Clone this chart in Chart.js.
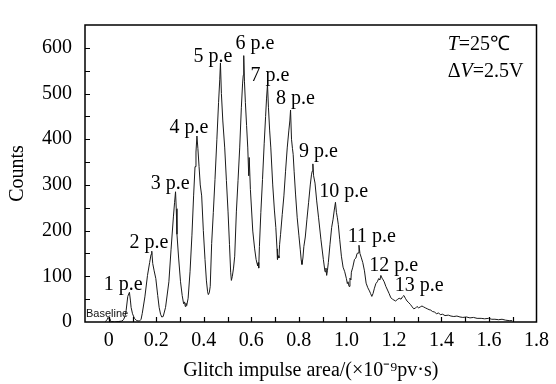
<!DOCTYPE html>
<html><head><meta charset="utf-8">
<script src="https://cdn.jsdelivr.net/npm/chart.js@4/dist/chart.umd.min.js"></script>
<style>html,body{margin:0;padding:0;background:#fff;}#wrap{width:556px;height:384px;}</style>
</head><body><div id="wrap"><canvas id="c" width="556" height="384"></canvas></div>
<script>
// Glitch impulse area (x 10^-9 pv.s)
const areaX = [
-0.015,-0.010,-0.006,-0.003,0.001,0.005,0.012,0.025,0.040,0.055,0.062,0.068,0.073,0.080,0.087,0.091,0.094,0.100,0.108,0.118,
0.129,0.136,0.141,0.152,0.163,0.172,0.178,0.181,0.185,0.191,0.198,0.206,0.212,0.218,0.223,
0.229,0.239,0.253,0.262,0.272,0.277,0.281,0.284,0.287,0.294,0.302,0.309,0.315,0.319,0.322,0.325,0.328,
0.334,0.342,0.350,0.357,0.363,0.367,0.371,0.375,0.380,0.385,0.391,0.398,0.405,0.411,0.416,0.419,
0.423,0.427,0.433,0.440,0.447,0.455,0.462,0.467,0.470,0.474,0.480,0.488,0.495,0.502,0.508,0.513,0.516,
0.520,0.525,0.530,0.537,0.544,0.551,0.558,0.563,0.566,0.568,0.571,0.575,0.580,0.585,0.589,0.591,0.596,0.606,0.614,0.620,0.624,0.627,0.629,0.631,
0.634,0.640,0.647,0.654,0.660,0.664,0.668,0.672,0.677,0.682,0.690,0.697,0.703,0.708,0.710,0.713,0.716,0.719,
0.723,0.730,0.737,0.744,0.751,0.758,0.762,0.765,0.769,0.773,0.776,0.780,0.786,0.793,0.800,0.806,0.810,0.813,0.817,0.821,
0.827,0.834,0.841,0.848,0.853,0.856,0.859,0.862,0.868,0.875,0.883,0.893,0.903,0.910,0.914,0.917,0.920,0.924,
0.931,0.938,0.944,0.949,0.954,0.958,0.962,0.966,0.972,0.979,0.986,0.993,1.000,1.004,1.007,1.011,1.015,1.019,1.021,
1.027,1.034,1.040,1.045,1.049,1.053,1.057,1.062,1.069,1.076,1.083,1.090,1.097,1.102,1.107,
1.112,1.118,1.124,1.130,1.136,1.141,1.145,1.150,1.155,1.159,1.166,1.173,1.180,1.187,1.194,1.200,1.207,
1.214,1.222,1.230,1.236,1.242,1.248,1.255,1.263,1.270,1.277,1.283,1.290,1.297,1.304,1.311,1.318,1.325,1.332,1.340,1.348,
1.355,1.362,1.370,1.380,1.388,1.395,1.405,1.415,1.429,1.440,1.452,1.465,1.478,1.490,1.505,1.520,1.535,1.550,1.567,1.582,
1.598,1.612,1.625,1.640,1.655,1.670,1.685,1.698
];
const counts = [
1,3,6,10,7,3,1,0,1,2,5,12,25,56,65,48,32,18,8,3,
2,6,19,55,102,130,148,155,128,112,95,58,32,17,11,
12,32,88,158,230,262,285,248,192,140,88,58,40,44,34,41,36,
52,110,190,276,340,372,407,380,340,300,276,200,137,90,66,60,
64,78,172,240,312,400,480,530,567,500,440,381,310,241,170,109,91,
100,118,144,241,310,381,470,521,540,583,527,480,430,381,320,360,290,199,160,137,128,123,130,118,
165,240,312,390,450,490,520,470,420,381,300,245,207,160,137,145,140,170,
192,235,276,330,381,420,440,464,400,380,367,330,280,228,190,158,135,126,140,165,
186,225,262,300,322,330,346,320,304,265,228,180,137,110,118,102,112,130,
170,207,225,245,262,240,228,213,180,144,120,110,95,84,88,78,96,92,109,
120,137,140,150,151,168,150,142,130,112,85,75,68,62,56,
62,74,84,88,95,92,102,96,92,88,78,70,62,53,50,48,46,
49,52,50,55,58,52,46,42,38,33,29,30,34,31,33,35,33,31,29,27,
26,23,22,18,20,16,17,14,15,13,12,13,11,10,11,9,10,8,8,7,
8,6,6,5,6,4,3,3
];
const xTickValues = [0,0.2,0.4,0.6,0.8,1.0,1.2,1.4,1.6,1.8];
const xTickLabels = ['0','0.2','0.4','0.6','0.8','1.0','1.2','1.4','1.6','1.8'];
const xMinorTicks = [0,0.1,0.2,0.3,0.4,0.5,0.6,0.7,0.8,0.9,1.0,1.1,1.2,1.3,1.4,1.5,1.6,1.7];
const yTickValues = [0,100,200,300,400,500,600];
const yTickLabels = ['0','100','200','300','400','500','600'];
const yMinorTicks = [50,100,150,200,250,300,350,400,450,500,550,600];
const peakLabels = ['1 p.e','2 p.e','3 p.e','4 p.e','5 p.e','6 p.e','7 p.e','8 p.e','9 p.e','10 p.e','11 p.e','12 p.e','13 p.e'];
const peakLabelX = [-0.021,0.087,0.177,0.256,0.357,0.533,0.596,0.704,0.801,0.886,1.006,1.096,1.203];
const peakLabelY = [71,161,291,414,570,598,527,478,361,274,175,112,67];
const baselineLabel = 'Baseline';
const baselineLabelPos = [-0.1, 10.5];
const condX = 1.426;
const condTY = 595;
const condVY = 537;

const SERIF = '"Liberation Serif","Times New Roman",serif';

const framePlugin = {
  id: 'frame',
  afterDraw(chart) {
    const {ctx, chartArea: a, scales} = chart;
    const xs = scales.x, ys = scales.y;
    ctx.save();
    ctx.strokeStyle = '#000';
    ctx.lineWidth = 1.5;
    ctx.strokeRect(a.left, a.top, a.right - a.left, a.bottom - a.top);
    ctx.lineWidth = 1.2;
    ctx.beginPath();
    xMinorTicks.forEach(v => {
      const px = Math.round(xs.getPixelForValue(v)) + 0.5;
      ctx.moveTo(px, a.bottom); ctx.lineTo(px, a.bottom - 5);
    });
    yMinorTicks.forEach(v => {
      const py = Math.round(ys.getPixelForValue(v)) + 0.5;
      ctx.moveTo(a.left, py); ctx.lineTo(a.left + 5, py);
    });
    ctx.stroke();

    // annotations
    ctx.fillStyle = '#000';
    ctx.textBaseline = 'alphabetic';
    ctx.textAlign = 'left';
    ctx.font = '20px ' + SERIF;
    peakLabels.forEach((t, i) => {
      ctx.fillText(t, xs.getPixelForValue(peakLabelX[i]), ys.getPixelForValue(peakLabelY[i]));
    });
    // Baseline
    ctx.font = '11px "Liberation Sans",Arial,sans-serif';
    ctx.fillStyle = '#111';
    ctx.fillText(baselineLabel, xs.getPixelForValue(baselineLabelPos[0]) + 1, ys.getPixelForValue(baselineLabelPos[1]));
    // Conditions
    ctx.fillStyle = '#000';
    let x0 = xs.getPixelForValue(condX);
    let y0 = ys.getPixelForValue(condTY);
    ctx.font = 'italic 20px ' + SERIF;
    ctx.fillText('T', x0, y0);
    let w = ctx.measureText('T').width;
    ctx.font = '20px ' + SERIF;
    ctx.fillText('=25\u2103', x0 + w, y0);
    y0 = ys.getPixelForValue(condVY);
    ctx.fillText('\u0394', x0, y0);
    w = ctx.measureText('\u0394').width;
    ctx.font = 'italic 20px ' + SERIF;
    ctx.fillText('V', x0 + w, y0);
    w += ctx.measureText('V').width;
    ctx.font = '20px ' + SERIF;
    ctx.fillText('=2.5V', x0 + w, y0);
    ctx.restore();
  }
};

new Chart(document.getElementById('c'), {
  type: 'line',
  data: {
    datasets: [{
      data: areaX.map((x, i) => ({x: x, y: counts[i]})),
      borderColor: '#1a1a1a',
      borderWidth: 1,
      pointRadius: 0,
      tension: 0,
      fill: false
    }]
  },
  options: {
    responsive: false,
    devicePixelRatio: 1,
    animation: false,
    layout: {padding: {left: 0, top: 11, right: 14, bottom: 0}},
    plugins: {legend: {display: false}, tooltip: {enabled: false}},
    scales: {
      x: {
        type: 'linear', min: -0.1, max: 1.8,
        afterBuildTicks: s => { s.ticks = xTickValues.map(v => ({value: v})); },
        afterFit: s => { s.height = 62; },
        ticks: {
          callback: (v, i) => xTickLabels[i],
          font: {family: SERIF, size: 20}, color: '#000', padding: 7,
          maxRotation: 0, autoSkip: false
        },
        grid: {display: false, drawTicks: false},
        border: {display: false},
        title: {display: true, text: 'Glitch impulse area/(\u00d710\u207b\u2079pv\u00b7s)',
          font: {family: SERIF, size: 20}, color: '#000', padding: {top: 0, bottom: 1}}
      },
      y: {
        type: 'linear', min: 0, max: 650,
        afterBuildTicks: s => { s.ticks = yTickValues.map(v => ({value: v})); },
        afterFit: s => { s.width = 85; },
        ticks: {
          callback: (v, i) => yTickLabels[i],
          font: {family: SERIF, size: 20}, color: '#000', padding: 13
        },
        grid: {display: false, drawTicks: false},
        border: {display: false},
        title: {display: true, text: 'Counts', font: {family: SERIF, size: 20}, color: '#000',
          padding: {top: 6, bottom: 0}}
      }
    }
  },
  plugins: [framePlugin]
});
</script>
</body></html>
